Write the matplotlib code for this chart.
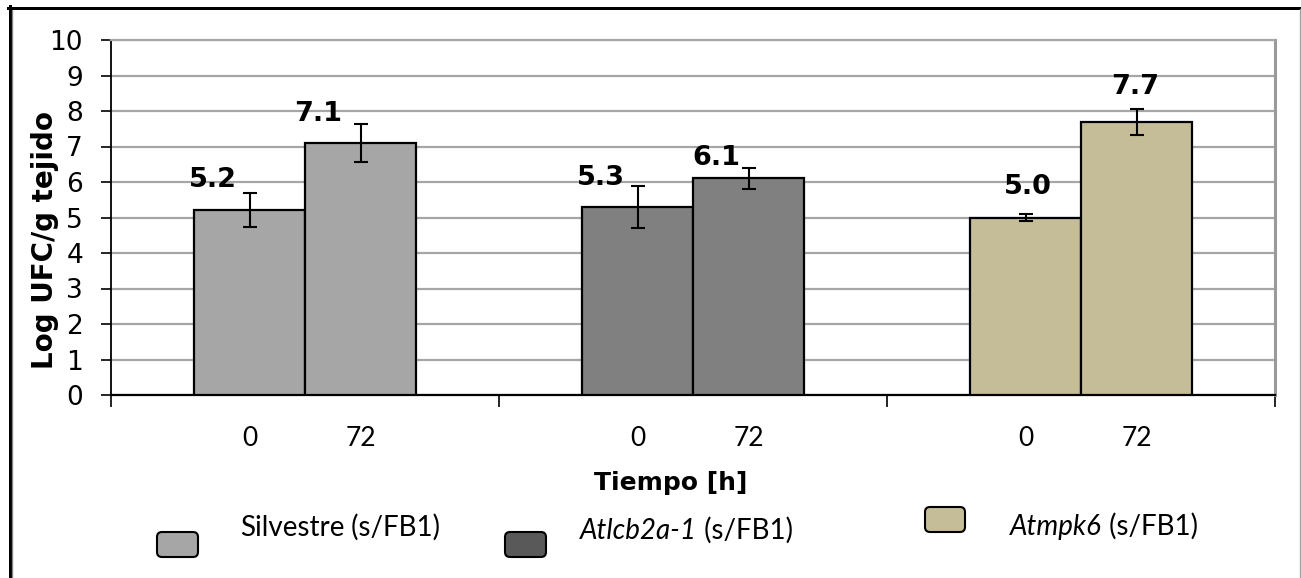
import matplotlib
matplotlib.use("Agg")
import matplotlib.pyplot as plt
from matplotlib.patches import FancyBboxPatch
from matplotlib.lines import Line2D
from matplotlib.transforms import IdentityTransform

# ---- data -------------------------------------------------------------
genotypes = ["Silvestre", "Atlcb2a-1", "Atmpk6"]
italic_name = [False, True, True]
suffix = " (s/FB1)"
times = ["0", "72"]
means = [[5.2, 7.1], [5.3, 6.1], [5.0, 7.7]]
errors = [[0.48, 0.54], [0.60, 0.30], [0.10, 0.37]]
bar_colors = ["#a6a6a6", "#808080", "#c4bd97"]
legend_colors = ["#a6a6a6", "#595959", "#c4bd97"]
yticks = list(range(0, 11))
ylabel = "Log UFC/g tejido"
xlabel = "Tiempo [h]"

# ---- layout (pixels) --------------------------------------------------
W, H, DPI = 1301, 578, 100
fig = plt.figure(figsize=(W / DPI, H / DPI), dpi=DPI)
fig.patch.set_facecolor("white")


def fx(px):
    return px / W


def fy(py):
    return 1 - py / H


ax = fig.add_axes([fx(111), fy(395), fx(1275) - fx(111), fy(40) - fy(395)])
ax.set_xlim(-0.5, 2.5)
ax.set_ylim(0, 10)

bw = 111 / 388  # width of one bar in group units
# value-label offsets (points) relative to the top of each bar
label_offsets = [[(-26.6, 21.6), (-30.5, 20.9)],
                 [(-26.6, 20.9), (-23.0, 14.4)],
                 [(1.4, 22.3), (-0.7, 25.2)]]

centers = []
for gi in range(len(genotypes)):
    for ti in range(len(times)):
        x = gi + (ti - 0.5) * bw
        centers.append(x)
        v = means[gi][ti]
        ax.bar(x, v, width=bw, color=bar_colors[gi], edgecolor="black",
               linewidth=1.6, zorder=3)
        ax.errorbar(x, v, yerr=errors[gi][ti], fmt="none", ecolor="black",
                    elinewidth=1.5, capsize=4.8, capthick=1.5, zorder=4)
        ax.annotate(f"{v:.1f}", xy=(x, v), xytext=label_offsets[gi][ti],
                    textcoords="offset points", ha="center", va="center",
                    fontsize=19.5, fontweight="bold", family="DejaVu Sans",
                    zorder=5)

# grid and spines
ax.set_axisbelow(True)
ax.yaxis.grid(True, color="#a6a6a6", linewidth=1.6)
ax.spines["left"].set_color("black")
ax.spines["left"].set_linewidth(1.3)
ax.spines["bottom"].set_color("black")
ax.spines["bottom"].set_linewidth(1.6)
ax.spines["right"].set_color("#9a9a9a")
ax.spines["right"].set_linewidth(2.2)
ax.spines["top"].set_color("#a6a6a6")
ax.spines["top"].set_linewidth(1.6)

ax.set_yticks(yticks)
ax.tick_params(axis="y", which="major", direction="out", length=7.2,
               width=1.2, color="black", pad=13, labelsize=19)
for lbl in ax.get_yticklabels():
    lbl.set_family("DejaVu Sans")

ax.set_xticks([-0.5, 0.5, 1.5, 2.5])
ax.set_xticklabels([])
ax.tick_params(axis="x", which="major", direction="out", length=8.6,
               width=1.2, color="black")
ax.set_xticks(centers, times * len(genotypes), minor=True)
ax.tick_params(axis="x", which="minor", length=0, pad=22, labelsize=19)
for lbl in ax.get_xticklabels(minor=True):
    lbl.set_family("Lato")

# axis titles
fig.text(fx(45), fy(240), ylabel, rotation=90, ha="center", va="center",
         fontsize=20, fontweight="bold", family="DejaVu Sans")
fig.text(fx(671), fy(483), xlabel, ha="center", va="center",
         fontsize=18, fontweight="bold", family="DejaVu Sans")

# legend entries: rounded swatch + label
swatches = [(157, 532, 198, 557), (505, 532, 546, 557), (925, 507, 965, 532)]
text_x = [240, 580, 1010]
text_base = [536, 539, 535]
renderer = fig.canvas.get_renderer()
for i, name in enumerate(genotypes):
    x0, y0, x1, y1 = swatches[i]
    box = FancyBboxPatch((x0, H - y1), x1 - x0, y1 - y0,
                         boxstyle="round,pad=0,rounding_size=5",
                         facecolor=legend_colors[i], edgecolor="black",
                         linewidth=1.5, transform=IdentityTransform())
    fig.add_artist(box)
    t1 = fig.text(fx(text_x[i]), fy(text_base[i]), name, ha="left",
                  va="baseline", fontsize=20, family="Lato",
                  style="italic" if italic_name[i] else "normal")
    bb = t1.get_window_extent(renderer)
    fig.text(bb.x1 / W, fy(text_base[i]), suffix, ha="left", va="baseline",
             fontsize=20, family="Lato")

# outer frame
frame = [
    ((9.5, 9.5), (6, 578), "black", 3.0),
    ((12.2, 12.2), (9, 578), "#808080", 1.3),
    ((8, 1301), (7.5, 7.5), "black", 3.0),
    ((1299.5, 1299.5), (9, 578), "#a0a0a0", 1.3),
]
for xs, ys, c, lw in frame:
    fig.add_artist(Line2D(xs, [H - y for y in ys], color=c,
                          linewidth=lw * 0.72, transform=IdentityTransform()))

fig.savefig("out.png", dpi=DPI, facecolor="white")
